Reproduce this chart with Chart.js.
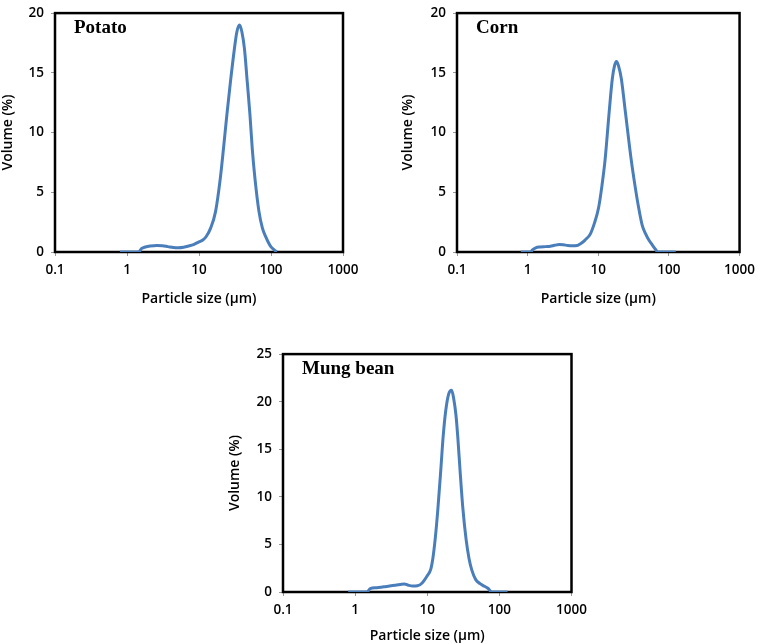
<!DOCTYPE html>
<html><head><meta charset="utf-8">
<script src="https://cdn.jsdelivr.net/npm/chart.js@4.4.1/dist/chart.umd.min.js"></script>
<style>
html,body{margin:0;padding:0;background:#fff;width:761px;height:644px;overflow:hidden;position:relative}
canvas{position:absolute}
</style></head><body>
<canvas id="c1" width="380" height="314" style="left:0px;top:-2px"></canvas>
<canvas id="c2" width="361" height="314" style="left:400px;top:-2px"></canvas>
<canvas id="c3" width="380" height="305" style="left:227px;top:339px"></canvas>
<script>
// ---- Data ----
const xTickValues = [0.1, 1, 10, 100, 1000];
const xTickLabels = ['0.1', '1', '10', '100', '1000'];
const yTicksSmall = [0, 5, 10, 15, 20];
const yTicksMung = [0, 5, 10, 15, 20, 25];
const xTitle = 'Particle size (µm)';
const yTitle = 'Volume (%)';

const potatoSize =   [0.8, 1.0, 1.25, 1.45, 1.6, 1.8, 2.1, 2.6, 3.1, 3.7, 4.4, 5.2, 6.1, 7.2, 8.4, 10, 11.3, 12.6, 14.5, 17, 19.7, 22, 24.4, 27.4, 31, 33.5, 36.5, 39.5, 42.8, 46.7, 51, 55, 60, 68, 76, 85, 92, 100, 110, 120];
const potatoVolume = [0, 0, 0, 0, 0.3, 0.42, 0.5, 0.55, 0.52, 0.45, 0.38, 0.36, 0.4, 0.5, 0.62, 0.85, 1.0, 1.3, 2.0, 3.4, 6.1, 8.8, 11.5, 14.3, 17.0, 18.4, 19.0, 18.4, 17.0, 14.3, 11.5, 8.6, 6.1, 3.4, 2.0, 1.25, 0.8, 0.43, 0.2, 0];

const cornSize =   [0.8, 1.0, 1.1, 1.18, 1.3, 1.5, 1.8, 2.1, 2.4, 2.8, 3.2, 3.7, 4.3, 5.0, 5.6, 6.5, 7.7, 8.8, 10.1, 11.3, 12.5, 14.3, 15.8, 17, 18.1, 19.3, 21.2, 24.1, 29.2, 33, 37.3, 42, 47, 52, 58, 64, 70, 100, 125];
const cornVolume = [0, 0, 0, 0.2, 0.35, 0.42, 0.45, 0.48, 0.56, 0.62, 0.6, 0.55, 0.53, 0.55, 0.7, 1.0, 1.5, 2.4, 3.7, 5.6, 7.75, 11.8, 14.5, 15.6, 15.95, 15.6, 14.5, 11.8, 7.75, 5.6, 3.7, 2.2, 1.5, 1.0, 0.6, 0.25, 0, 0, 0];

const mungSize =   [0.8, 1.0, 1.25, 1.45, 1.62, 2.0, 2.5, 3.0, 3.6, 4.2, 4.8, 5.5, 6.3, 7.3, 8.5, 10, 11.2, 12.0, 12.9, 14, 15.4, 16.6, 18, 19.8, 21.8, 23.4, 25, 26.5, 28.6, 31, 34.6, 38, 41.5, 47, 54, 62, 70, 78, 100, 130];
const mungVolume = [0, 0, 0, 0, 0.35, 0.45, 0.55, 0.62, 0.7, 0.78, 0.85, 0.7, 0.62, 0.65, 0.95, 1.7, 2.4, 3.6, 5.6, 8.6, 12.8, 16.3, 19.0, 20.8, 21.2, 20.2, 18.6, 16.3, 12.6, 9.0, 5.5, 3.5, 2.3, 1.3, 0.88, 0.6, 0.37, 0, 0, 0];

// ---- Chart setup ----
Chart.defaults.font.family = '"Open Sans", Lato, sans-serif';
Chart.defaults.font.size = 13.5;
Chart.defaults.font.weight = 600;
Chart.defaults.color = '#000';

const framePlugin = {
  id: 'frameAndLabel',
  beforeDatasetsDraw(chart) {
    const a = chart.chartArea, ctx = chart.ctx;
    ctx.save();
    ctx.strokeStyle = '#000';
    ctx.lineWidth = 2.5;
    ctx.strokeRect(a.left, a.top, a.right - a.left, a.bottom - a.top);
    ctx.restore();
  },
  afterDraw(chart, args, opts) {
    const a = chart.chartArea, ctx = chart.ctx;
    ctx.save();
    ctx.font = 'bold 19px "Liberation Serif", "Times New Roman", serif';
    ctx.fillStyle = '#000';
    ctx.textBaseline = 'alphabetic';
    ctx.textAlign = 'left';
    ctx.fillText(opts.text, a.left + 19, a.top + 20);
    ctx.restore();
  }
};

function makeChart(id, name, sizes, volumes, yMax, yTicks, g) {
  const pts = sizes.map((s, i) => ({x: s, y: volumes[i]}));
  return new Chart(document.getElementById(id), {
    type: 'line',
    data: { datasets: [{
      label: name, data: pts,
      borderColor: '#4A7EBB', borderWidth: 3,
      pointRadius: 0, pointHoverRadius: 0,
      cubicInterpolationMode: 'monotone', fill: false, clip: 0
    }]},
    options: {
      responsive: false, animation: false, devicePixelRatio: 1,
      layout: { padding: g.padding },
      plugins: { legend: {display: false}, tooltip: {enabled: false}, frameAndLabel: {text: name} },
      scales: {
        x: {
          type: 'logarithmic', min: 0.1, max: 1000, position: 'bottom',
          afterBuildTicks: s => { s.ticks = xTickValues.map(v => ({value: v})); },
          afterFit: s => { s.height = g.xH; },
          ticks: { autoSkip: false, maxRotation: 0, minRotation: 0, padding: 6, color: '#000',
            callback: v => { const i = xTickValues.indexOf(v); return i >= 0 ? xTickLabels[i] : ''; } },
          grid: { display: true, drawOnChartArea: false, drawTicks: true, tickLength: 4, color: '#999', lineWidth: 1 },
          border: { display: false },
          title: { display: true, text: xTitle, color: '#000', font: {size: 14, weight: 600}, padding: {top: 0, bottom: g.xTitlePad} }
        },
        y: {
          type: 'linear', min: 0, max: yMax,
          afterBuildTicks: s => { s.ticks = yTicks.map(v => ({value: v})); },
          afterFit: s => { s.width = g.yW; },
          ticks: { padding: 7, color: '#000' },
          grid: { display: true, drawOnChartArea: false, drawTicks: true, tickLength: 4, color: '#999', lineWidth: 1 },
          border: { display: false },
          title: { display: true, text: yTitle, color: '#000', font: {size: 14, weight: 600}, padding: {top: 0, bottom: 0} }
        }
      }
    },
    plugins: [framePlugin]
  });
}

makeChart('c1', 'Potato', potatoSize, potatoVolume, 20, yTicksSmall,
  { padding: {left: 0, right: 37, top: 8, bottom: 0}, yW: 55, xH: 60, xTitlePad: 5 });
makeChart('c2', 'Corn', cornSize, cornVolume, 20, yTicksSmall,
  { padding: {left: 0, right: 16, top: 8, bottom: 0}, yW: 57, xH: 60, xTitlePad: 5 });
makeChart('c3', 'Mung bean', mungSize, mungVolume, 25, yTicksMung,
  { padding: {left: 0, right: 35.5, top: 8, bottom: 0}, yW: 56, xH: 52, xTitlePad: 0 });
</script>
</body></html>
